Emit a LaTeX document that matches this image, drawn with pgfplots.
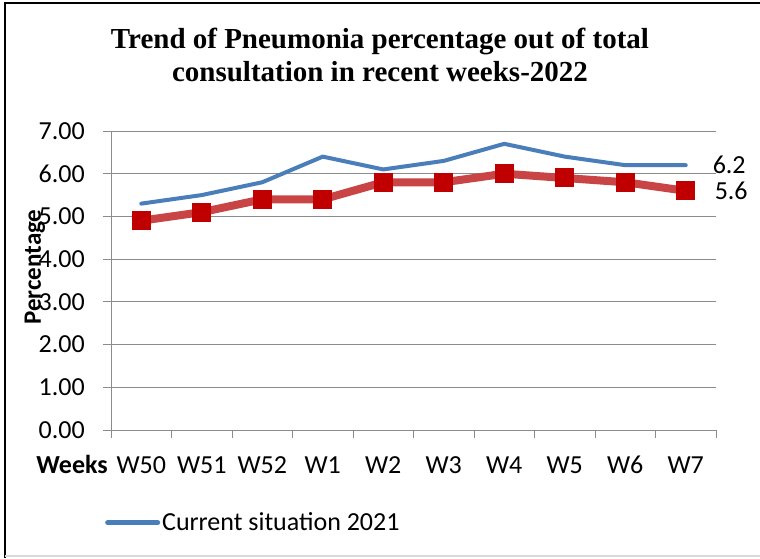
\documentclass[border=0pt]{standalone}
\usepackage{pgfplots}
\pgfplotsset{compat=1.18}
\usepackage{fontspec}
\setmainfont{Carlito}
\newfontfamily\titlefont{Liberation Serif}
\definecolor{blueline}{HTML}{4A7EBB}
\definecolor{redline}{HTML}{C94545}
\definecolor{redmark}{HTML}{C00000}
\definecolor{axgray}{HTML}{8C8C8C}
\begin{document}
\begin{tikzpicture}
\useasboundingbox (0pt,0pt) rectangle (760pt,558pt);
\fill[white] (0pt,0pt) rectangle (760pt,558pt);
\draw[black, line width=2pt] (5pt,0pt) -- (5pt,555pt) -- (760pt,555pt);
\draw[black!15, line width=1.5pt] (5pt,2pt) -- (760pt,2pt);
\node[font=\titlefont\bfseries\fontsize{29}{33}\selectfont, align=center] at (380pt,503pt) {Trend of Pneumonia percentage out of total\\consultation in recent weeks-2022};
\begin{axis}[
  at={(111pt,128pt)}, anchor=south west,
  scale only axis, width=605pt, height=299pt,
  xmin=-0.5, xmax=9.5, ymin=0, ymax=7,
  ytick={0,1,...,7},
  xtick={0,...,9},
  xticklabels={W50,W51,W52,W1,W2,W3,W4,W5,W6,W7},
  minor xtick={-0.5,0.5,...,9.5},
  major x tick style={draw=none},
  tick align=outside,
  major tick length=8pt, minor tick length=8pt,
  tick style={axgray, line width=1pt},
  axis x line*=bottom, axis y line*=left,
  axis line style={axgray, line width=1pt, -},
  ymajorgrids, grid style={axgray, line width=1pt},
  /pgf/number format/assume math mode=true,
  yticklabel={\pgfmathprintnumber[fixed,fixed zerofill,precision=2]{\tick}},
  yticklabel style={font=\fontsize{26}{26}\selectfont, inner sep=0pt, xshift=-18pt},
  xticklabel style={font=\fontsize{26}{26}\selectfont, inner sep=0pt, anchor=base, yshift=-35pt},
  clip=false,
  legend style={at={(axis description cs:-0.01,-0.31)}, anchor=west, draw=none, fill=none, font=\fontsize{26}{26}\selectfont, inner sep=0pt},
  legend cell align=left,
  legend image code/.code={\draw[#1, line width=5pt] (0pt,0pt) -- (50pt,0pt);},
]
\addplot[blueline, line width=4pt, line cap=round, line join=round] coordinates {
(0,5.3) (1,5.5) (2,5.8) (3,6.4) (4,6.1) (5,6.3) (6,6.7) (7,6.4) (8,6.2) (9,6.2)
} node[pos=1, anchor=west, inner sep=0pt, xshift=25pt, text=black, font=\fontsize{26}{26}\selectfont] {6.2};
\addlegendentry{Current situation 2021}
\addplot[redline, line width=8pt, line join=round, mark=square*, mark size=9pt, mark options={fill=redmark, draw=redmark, line width=0pt}, forget plot] coordinates {
(0,4.9) (1,5.1) (2,5.4) (3,5.4) (4,5.8) (5,5.8) (6,6.0) (7,5.9) (8,5.8) (9,5.6)
} node[pos=1, anchor=west, inner sep=0pt, xshift=25pt, font=\fontsize{26}{26}\selectfont, text=black] {5.6};
\end{axis}
\node[anchor=base east, inner sep=0pt, font=\bfseries\fontsize{26}{26}\selectfont] at (108pt,85pt) {Weeks};
\node[rotate=90, inner sep=0pt, font=\bfseries\fontsize{25}{25}\selectfont] at (35pt,291pt) {Percentage};
\end{tikzpicture}
\end{document}
